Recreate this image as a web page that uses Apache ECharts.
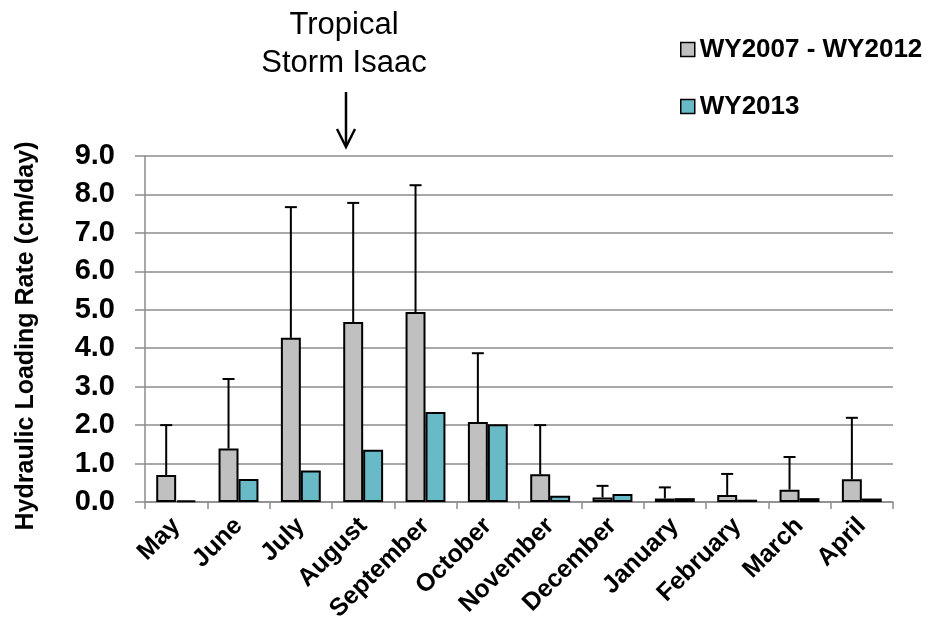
<!DOCTYPE html>
<html>
<head>
<meta charset="utf-8">
<script src="https://cdn.jsdelivr.net/npm/echarts@6/dist/echarts.min.js"></script>
<style>
  html, body { margin: 0; padding: 0; background: #ffffff; }
  #chart { width: 927px; height: 633px; }
</style>
</head>
<body>
<div id="chart"></div>
<script>
// ---- data ----
const months = ['May', 'June', 'July', 'August', 'September', 'October', 'November', 'December', 'January', 'February', 'March', 'April'];
const wyAvg = [0.70, 1.39, 4.27, 4.68, 4.94, 2.08, 0.72, 0.12, 0.09, 0.18, 0.32, 0.59];
const wyAvgErr = [1.30, 1.81, 3.40, 3.10, 3.30, 1.79, 1.28, 0.30, 0.29, 0.55, 0.85, 1.60];
const wy2013 = [0.04, 0.60, 0.82, 1.36, 2.34, 2.02, 0.16, 0.21, 0.10, 0.06, 0.10, 0.09];
const yTicks = [0, 1, 2, 3, 4, 5, 6, 7, 8, 9];
const seriesNames = ['WY2007 - WY2012', 'WY2013'];
const annotationText = 'Tropical\nStorm Isaac';

const FONT = '"Liberation Sans", Arial, Helvetica, sans-serif';
const GAP = 0.36;

const errData = months.map((m, i) => [i, wyAvg[i], wyAvg[i] + wyAvgErr[i]]);

const chart = echarts.init(document.getElementById('chart'), null, { renderer: 'canvas' });

chart.setOption({
  backgroundColor: '#ffffff',
  animation: false,
  grid: { left: 145, right: 34, top: 156, bottom: 131, containLabel: false },
  legend: {
    orient: 'vertical',
    left: 675,
    top: 31,
    icon: 'rect',
    itemWidth: 14,
    itemHeight: 14,
    itemGap: 30,
    data: seriesNames,
    itemStyle: { borderColor: '#000', borderWidth: 1.5 },
    textStyle: { fontFamily: FONT, fontWeight: 'bold', fontSize: 26, color: '#000', lineHeight: 27 }
  },
  xAxis: {
    type: 'category',
    data: months,
    axisLine: { show: true, lineStyle: { color: '#8c8c8c', width: 1.5 } },
    axisTick: { show: true, length: 7, lineStyle: { color: '#8c8c8c', width: 1.5 } },
    axisLabel: {
      rotate: 45, margin: 20, interval: 0,
      fontFamily: FONT, fontWeight: 'bold', fontSize: 25, color: '#000'
    }
  },
  yAxis: {
    type: 'value',
    min: 0, max: 9, interval: 1,
    name: 'Hydraulic Loading Rate (cm/day)',
    nameLocation: 'middle',
    nameGap: 106,
    nameTextStyle: { fontFamily: FONT, fontWeight: 'bold', fontSize: 25, color: '#000', padding: [0, 14, 0, 0] },
    axisLine: { show: true, lineStyle: { color: '#8c8c8c', width: 1.5 } },
    axisTick: { show: true, inside: false, length: 10, lineStyle: { color: '#8c8c8c', width: 1.5 } },
    splitLine: { show: true, lineStyle: { color: '#8c8c8c', width: 1.5 } },
    axisLabel: {
      margin: 30,
      fontFamily: FONT, fontWeight: 'bold', fontSize: 29, color: '#000',
      formatter: v => yTicks.indexOf(v) >= 0 ? v.toFixed(1) : ''
    }
  },
  series: [
    {
      name: seriesNames[0],
      type: 'bar',
      data: wyAvg,
      barGap: '0%',
      barCategoryGap: (GAP * 100) + '%',
      itemStyle: { color: '#c0c0c0', borderColor: '#000', borderWidth: 2 }
    },
    {
      name: seriesNames[1],
      type: 'bar',
      data: wy2013,
      barGap: '0%',
      barCategoryGap: (GAP * 100) + '%',
      itemStyle: { color: '#67bac6', borderColor: '#000', borderWidth: 2 }
    },
    {
      name: 'err',
      type: 'custom',
      z: 5,
      data: errData,
      encode: { x: 0, y: [1, 2] },
      renderItem: function (params, api) {
        const idx = api.value(0);
        const lo = api.coord([idx, api.value(1)]);
        const hi = api.coord([idx, api.value(2)]);
        const bw = api.size([1, 0])[0];
        const x = lo[0] - bw * (1 - GAP) / 4;
        const cap = 6;
        const st = { stroke: '#000', lineWidth: 2 };
        return {
          type: 'group',
          children: [
            { type: 'line', shape: { x1: x, y1: lo[1], x2: x, y2: hi[1] }, style: st },
            { type: 'line', shape: { x1: x - cap, y1: hi[1], x2: x + cap, y2: hi[1] }, style: st }
          ]
        };
      }
    }
  ],
  graphic: [
    {
      type: 'text',
      x: 344, y: 6,
      style: {
        text: annotationText,
        fontFamily: FONT, fontSize: 31, fill: '#000',
        align: 'center', verticalAlign: 'top', lineHeight: 38
      }
    },
    {
      type: 'line',
      shape: { x1: 346, y1: 92, x2: 346, y2: 146 },
      style: { stroke: '#000', lineWidth: 2.5 }
    },
    {
      type: 'polyline',
      shape: { points: [[337, 129], [346, 147], [355, 129]] },
      style: { stroke: '#000', lineWidth: 2.5, fill: null }
    }
  ]
});
</script>
</body>
</html>
